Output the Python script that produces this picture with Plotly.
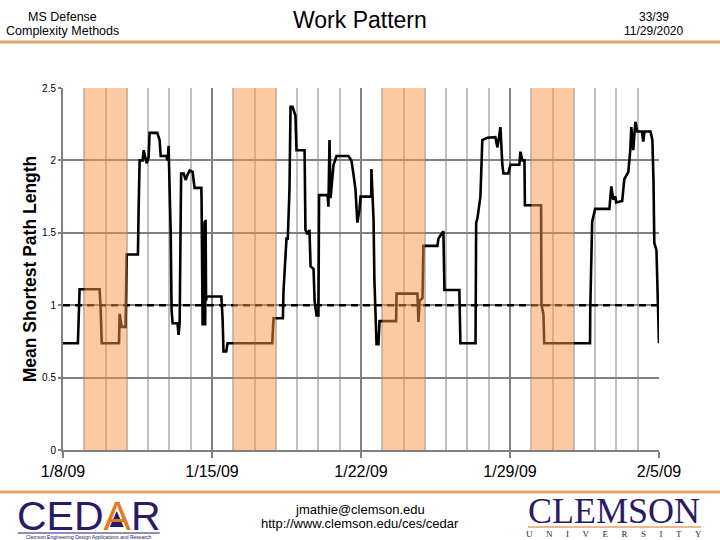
import pandas as pd
from plotly import graph_objects

W, H = 720, 540
LEFT, RIGHT, TOP, BOTTOM = 63.3, 61, 88, 90

# days since 1/8/09 and mean shortest path length
days = [
    0, 0.70, 0.78, 1.72, 1.77, 1.82, 2.63, 2.66, 2.76, 2.94, 2.99, 3.52, 3.55, 3.60, 3.74, 3.79,
    3.93, 4.02, 4.07, 4.43, 4.54, 4.59, 4.85, 4.92, 4.96, 5.01, 5.06, 5.10, 5.15, 5.38, 5.43, 5.48,
    5.53, 5.55, 5.67, 5.76, 5.85, 5.95, 6.09, 6.18, 6.50, 6.51, 6.56, 6.61, 6.63, 6.65, 6.68, 6.70,
    6.72, 6.75, 7.44, 7.50, 7.54, 7.67, 7.73, 9.83, 9.89, 10.33, 10.36, 10.50, 10.56, 10.64, 10.69,
    10.78, 10.92, 10.97, 11.35, 11.39, 11.49, 11.58, 11.63, 11.77, 11.82, 11.91, 12.00, 12.03, 12.43,
    12.47, 12.52, 12.57, 12.71, 12.85, 13.41, 13.55, 13.65, 13.74, 13.83, 13.93, 13.98, 14.48, 14.49,
    14.54, 14.59, 14.63, 14.68, 14.73, 14.82, 14.87, 15.65, 15.67, 16.65, 16.70, 16.75, 16.89, 16.93,
    17.59, 17.64, 17.87, 17.92, 18.62, 18.67, 19.38, 19.41, 19.47, 19.61, 19.70, 19.94, 20.31, 20.41,
    20.55, 20.64, 20.69, 20.92, 21.02, 21.44, 21.49, 21.58, 21.68, 21.70, 22.46, 22.47, 22.48, 22.57,
    22.61, 24.76, 24.77, 24.86, 25.00, 25.67, 25.71, 25.76, 25.85, 25.95, 25.99, 26.27, 26.37, 26.56,
    26.65, 26.70, 26.79, 26.89, 26.98, 27.20, 27.26, 27.32, 27.60, 27.69, 27.74, 27.78, 27.88, 27.92,
    28.00,
]
path_length = [
    0.737, 0.737, 1.11, 1.11, 0.97, 0.737, 0.737, 0.94, 0.85, 0.85, 1.35, 1.35, 1.64, 2.00, 2.00, 2.07,
    1.98, 2.02, 2.19, 2.19, 2.14, 2.03, 2.03, 2.00, 2.10, 1.81, 1.50, 0.97, 0.875, 0.875, 0.795, 0.875,
    1.40, 1.91, 1.91, 1.865, 1.90, 1.93, 1.92, 1.81, 1.81, 1.73, 0.86, 1.48, 0.86, 1.58, 0.86, 1.59,
    1.03, 1.06, 1.06, 0.90, 0.68, 0.68, 0.737, 0.737, 0.91, 0.91, 1.10, 1.46, 1.46, 1.80, 2.37,
    2.37, 2.31, 2.07, 2.07, 1.52, 1.49, 1.52, 1.27, 1.25, 1.03, 0.93, 0.93, 1.76, 1.76,
    1.68, 2.14, 1.74, 1.97, 2.03, 2.03, 2.00, 1.90, 1.80, 1.57, 1.66, 1.75, 1.75, 1.94,
    1.76, 1.59, 1.17, 0.90, 0.73, 0.73, 0.89, 0.89, 1.08, 1.08, 0.885, 1.03, 1.05, 1.41,
    1.41, 1.46, 1.51, 1.105, 1.105, 0.737, 0.737, 1.57, 1.60, 1.75, 2.14, 2.157, 2.16, 2.09,
    2.23, 1.97, 1.91, 1.91, 1.97, 1.97, 2.06, 2.00, 2.00, 1.69, 1.69, 1.31, 1.00, 0.94,
    0.737, 0.737, 0.97, 1.577, 1.665, 1.665, 1.73, 1.82, 1.73, 1.75, 1.71, 1.72, 1.87, 1.92,
    2.07, 2.23, 2.07, 2.267, 2.20, 2.20, 2.13, 2.20, 2.20, 2.14, 1.87, 1.43, 1.38, 1.105,
    0.737,
]
reference_level = [1, 1]
reference_dates = ["2009-01-08", "2009-02-05"]
weekend_start = ["2009-01-09", "2009-01-16", "2009-01-23", "2009-01-30"]
weekend_end = ["2009-01-11", "2009-01-18", "2009-01-25", "2009-02-01"]

dates = pd.Timestamp("2009-01-08") + pd.to_timedelta(days, unit="D")

DAY_MS = 86400000
GRID = "#808080"
ARIAL = "Liberation Sans"
SERIF = "Liberation Serif"
PURPLE = "#2b1a66"
ORANGE = "#e3a366"


# paper coordinates follow the plot area, so page pixels need converting
def px(x):
    return (x - LEFT) / (W - LEFT - RIGHT)


def py(y):
    return 1 - (y - TOP) / (H - TOP - BOTTOM)


def label(text, x, y, size, family=ARIAL, color="black"):
    return dict(
        text=text, x=px(x), y=py(y), xref="paper", yref="paper",
        yanchor="middle", xanchor="center", showarrow=False,
        font=dict(family=family, size=size, color=color),
    )


def page_line(x0, x1, y, color, width):
    figure.add_shape(
        type="line", xref="paper", yref="paper", x0=px(x0), x1=px(x1),
        y0=py(y), y1=py(y), line=dict(color=color, width=width),
    )


figure = graph_objects.Figure()
figure.add_trace(graph_objects.Scatter(
    x=reference_dates, y=reference_level, mode="lines",
    line=dict(color="black", width=2.6, dash="7px,5px"),
))
figure.add_trace(graph_objects.Scatter(
    x=dates, y=path_length, mode="lines",
    line=dict(color="black", width=2.6),
))

# weekends sit over the grid and the line
for start, end in zip(weekend_start, weekend_end):
    figure.add_shape(
        type="rect", xref="x", yref="y", x0=start, x1=end, y0=0, y1=2.5,
        fillcolor="#F79646", opacity=0.5, line_width=0, layer="above",
    )

page_line(0, W, 42, ORANGE, 3)
page_line(0, W, 492, ORANGE, 3)
page_line(18, 160, 533, PURPLE, 1)
page_line(528, 701, 527, ORANGE, 1.5)

# purple wedge inside the logo's A
figure.add_shape(
    type="path", xref="paper", yref="paper", fillcolor=PURPLE, line_width=0,
    path=f"M {px(117)} {py(511)} L {px(110)} {py(527)} L {px(124)} {py(527)} Z",
)

figure.update_layout(
    width=W, height=H,
    margin=dict(l=LEFT, r=RIGHT, t=TOP, b=BOTTOM),
    paper_bgcolor="white", plot_bgcolor="white",
    showlegend=False,
    annotations=[
        label("Work Pattern", 360, 20, 23),
        label("MS Defense", 63, 17, 12.5),
        label("Complexity Methods", 63, 31, 12.5),
        label("33/39", 654, 17, 12),
        label("11/29/2020", 654, 31, 12),
        label("jmathie@clemson.edu", 360, 509, 13),
        label("http://www.clemson.edu/ces/cedar", 360, 523, 13),
        label('CED<span style="color:#e07b20">A</span>R', 89, 516, 41, color=PURPLE),
        label("Clemson Engineering Design Applications and Research", 89, 537, 5, color=PURPLE),
        label("CLEMSON", 614, 511, 36, family=SERIF, color=PURPLE),
        label("U\u00a0\u00a0\u00a0\u00a0\u00a0\u00a0N\u00a0\u00a0\u00a0\u00a0\u00a0\u00a0I\u00a0\u00a0\u00a0\u00a0\u00a0\u00a0V\u00a0\u00a0\u00a0\u00a0\u00a0\u00a0E\u00a0\u00a0\u00a0\u00a0\u00a0\u00a0R\u00a0\u00a0\u00a0\u00a0\u00a0\u00a0S\u00a0\u00a0\u00a0\u00a0\u00a0\u00a0I\u00a0\u00a0\u00a0\u00a0\u00a0\u00a0T\u00a0\u00a0\u00a0\u00a0\u00a0\u00a0Y",
              614, 534, 9, family=SERIF, color=PURPLE),
    ],
)
figure.update_xaxes(
    type="date",
    range=["2009-01-08", "2009-02-05"],
    tick0="2009-01-08", dtick=7 * DAY_MS, tickformat="%-m/%-d/%y",
    tickfont=dict(family=ARIAL, size=16, color="black"),
    ticks="outside", ticklen=6, tickwidth=2, tickcolor=GRID,
    showgrid=True, gridcolor=GRID, gridwidth=2,
    minor=dict(tick0="2009-01-08", dtick=DAY_MS, showgrid=True, gridcolor="#c0c0c0", gridwidth=2, ticks=""),
    showline=True, linecolor=GRID, linewidth=2,
    zeroline=False,
)
figure.update_yaxes(
    range=[0, 2.5],
    tickvals=[0, 0.5, 1, 1.5, 2, 2.5],
    ticktext=["0", "0.5", "1", "1.5", "2", "2.5"],
    tickfont=dict(family=ARIAL, size=10, color="black"),
    ticks="outside", ticklen=3, tickwidth=2, tickcolor=GRID,
    showgrid=True, gridcolor=GRID, gridwidth=2,
    showline=True, linecolor=GRID, linewidth=2,
    zeroline=False,
    title=dict(text="<b>Mean Shortest Path Length</b>", font=dict(family=ARIAL, size=17.5, color="black"), standoff=1),
)

figure.write_html("out.html", config=dict(displayModeBar=False), post_script="document.body.style.margin='0';")
